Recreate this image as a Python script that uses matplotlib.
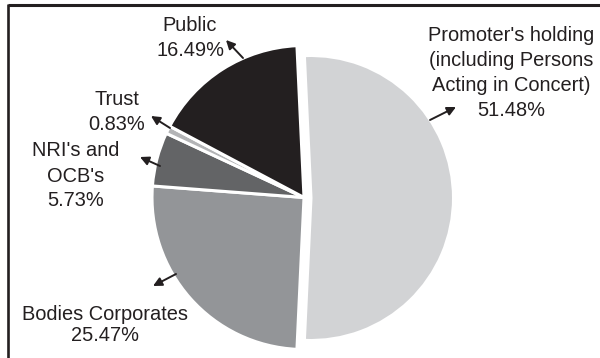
# Shareholding pattern pie chart
import matplotlib.pyplot as plt

# data
categories = ["Promoter's holding\n(including Persons\nActing in Concert)",
              "Bodies Corporates", "NRI's and\nOCB's", "Trust", "Public"]
shares = [51.48, 25.47, 5.73, 0.83, 16.49]
colors = ["#d2d3d5", "#939598", "#636466", "#b3b4b6", "#231f20"]

# layout (pixel coords, y measured from top of image)
W, H = 600, 358
def Y(y):
    return H - y

label_pos = [(511, 73), (105, 325), (76, 176), (117, 112), (190, 38)]
line_sp = [1.4, 1.15, 1.4, 1.4, 1.4]
arrows = [((430, 120), (456, 107)),   # promoter
          ((176, 274), (153, 286)),   # bodies
          ((160, 166), (140, 157)),   # nri
          ((170, 128), (151, 116)),   # trust
          ((243, 58), (226, 40))]     # public

fig = plt.figure(figsize=(6, 3.58), dpi=100)
ax = fig.add_axes([0, 0, 1, 1])

start = 360 * shares[0] / 200   # promoter wedge centred on the right
R = 152
wedges, _ = ax.pie(shares, colors=colors, startangle=start, counterclock=False,
                   radius=R, center=(304, Y(197.5)),
                   explode=[7 / R, 0, 0, 0, 0],
                   wedgeprops=dict(edgecolor="white", linewidth=2.2))
# promoter slice is drawn a bit smaller in the original
wedges[0].set_radius(142.5)
wedges[0].set_center((311, Y(198)))

for i in range(len(shares)):
    txt = categories[i] + "\n" + "%.2f%%" % shares[i]
    x, y = label_pos[i]
    ax.text(x, Y(y), txt, ha="center", va="center", fontsize=14.4,
            family="Liberation Sans", color="#231f20", linespacing=line_sp[i],
            multialignment="center")
    tail, head = arrows[i]
    ax.annotate("", xy=(head[0], Y(head[1])), xytext=(tail[0], Y(tail[1])),
                arrowprops=dict(arrowstyle="-|>", color="#231f20", lw=1.4,
                                mutation_scale=13, shrinkA=0, shrinkB=0))

# frame lines (top and left only, rest is cropped)
ax.plot([8, W], [Y(5), Y(5)], color="#231f20", lw=2.2, solid_capstyle="butt")
ax.plot([8, 8], [Y(4), 0], color="#231f20", lw=1.9, solid_capstyle="butt")

ax.set_xlim(0, W)
ax.set_ylim(0, H)
ax.set_aspect("equal")
ax.axis("off")

plt.savefig("out.png", dpi=100)
